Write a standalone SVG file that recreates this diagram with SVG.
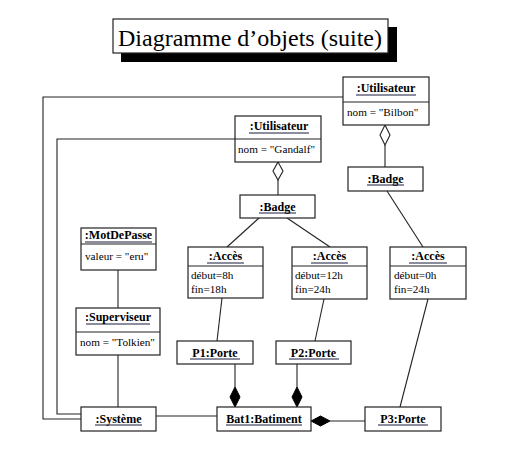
<svg xmlns="http://www.w3.org/2000/svg" width="509" height="458" viewBox="0 0 509 458">
<style>
.box{fill:#fff;stroke:#222;stroke-width:1.2}
.ln{fill:none;stroke:#222;stroke-width:1.1}
.hd{font-family:"Liberation Serif",serif;font-size:12px;font-weight:bold;fill:#000;text-anchor:middle}
.bd{font-family:"Liberation Serif",serif;font-size:11.2px;fill:#000}
.ul{stroke:#1a1a40;stroke-width:1}
.hol{fill:#fff;stroke:#222;stroke-width:1.1}
.fil{fill:#000;stroke:#000;stroke-width:1}
</style>
<rect width="509" height="458" fill="#fff"/>
<g id="title">
<rect x="121" y="27" width="276" height="35" fill="#000"/>
<rect x="113" y="19" width="275" height="34" fill="#fff" stroke="#222" stroke-width="1.2"/>
<text x="250" y="46" font-family="Liberation Serif, serif" font-size="24" text-anchor="middle" fill="#000">Diagramme d’objets (suite)</text>
</g>
<g id="connectors">
<polyline class="ln" points="343,97 43,97 43,419 81,419"/>
<polyline class="ln" points="235,139 57,139 57,414 81,414"/>
<line class="ln" x1="385" y1="145" x2="385" y2="167"/>
<polygon class="hol" points="385,125 390,135 385,145 380,135"/>
<line class="ln" x1="278" y1="180" x2="278" y2="195"/>
<polygon class="hol" points="278,162 283,171 278,180 273,171"/>
<line class="ln" x1="259" y1="218" x2="227" y2="247"/>
<line class="ln" x1="287" y1="218" x2="330" y2="247"/>
<line class="ln" x1="387" y1="191" x2="423" y2="247"/>
<line class="ln" x1="118" y1="270" x2="118" y2="308"/>
<line class="ln" x1="118" y1="355" x2="118" y2="407"/>
<line class="ln" x1="222" y1="298" x2="217" y2="341"/>
<line class="ln" x1="324" y1="299" x2="315" y2="341"/>
<line class="ln" x1="428" y1="299" x2="400" y2="407"/>
<line class="ln" x1="235" y1="364" x2="235" y2="387"/>
<polygon class="fil" points="235,387 240,397 235,407 230,397"/>
<line class="ln" x1="297" y1="364" x2="297" y2="387"/>
<polygon class="fil" points="297,387 302,397 297,407 292,397"/>
<line class="ln" x1="156" y1="416" x2="217" y2="416"/>
<line class="ln" x1="365" y1="421" x2="330" y2="421"/>
<polygon class="fil" points="311,421 320.5,416 330,421 320.5,426"/>
</g>
<g id="bilbon">
<rect class="box" x="343" y="77" width="86" height="48"/>
<line class="ln" x1="343" y1="102" x2="429" y2="102"/>
<text class="hd" x="386" y="92">:Utilisateur</text>
<line class="ul" x1="356" y1="95" x2="416" y2="95"/>
<text class="bd" x="347" y="116">nom = "Bilbon"</text>
</g>
<g id="gandalf">
<rect class="box" x="235" y="116" width="86" height="46"/>
<line class="ln" x1="235" y1="139" x2="321" y2="139"/>
<text class="hd" x="279" y="130">:Utilisateur</text>
<line class="ul" x1="249" y1="133" x2="309" y2="133"/>
<text class="bd" x="238" y="153">nom = "Gandalf"</text>
</g>
<g id="badgeG">
<rect class="box" x="240" y="195" width="75" height="23"/>
<text class="hd" x="277.5" y="211">:Badge</text>
<line class="ul" x1="259" y1="213" x2="296" y2="213"/>
</g>
<g id="badgeB">
<rect class="box" x="348" y="167" width="75" height="24"/>
<text class="hd" x="385.5" y="183">:Badge</text>
<line class="ul" x1="367" y1="185" x2="404" y2="185"/>
</g>
<g id="motdepasse">
<rect class="box" x="81" y="228" width="75" height="42"/>
<line class="ln" x1="81" y1="244" x2="156" y2="244"/>
<text class="hd" x="118.5" y="239">:MotDePasse</text>
<line class="ul" x1="85" y1="242" x2="152" y2="242"/>
<text class="bd" x="85" y="260">valeur = "eru"</text>
</g>
<g id="superviseur">
<rect class="box" x="76" y="308" width="84" height="47"/>
<line class="ln" x1="76" y1="332" x2="160" y2="332"/>
<text class="hd" x="118" y="321">:Superviseur</text>
<line class="ul" x1="86" y1="324" x2="150" y2="324"/>
<text class="bd" x="80" y="346">nom = "Tolkien"</text>
</g>
<g id="systeme">
<rect class="box" x="81" y="407" width="75" height="24"/>
<text class="hd" x="118.5" y="423">:Système</text>
<line class="ul" x1="95" y1="425" x2="142" y2="425"/>
</g>
<g id="acces1">
<rect class="box" x="188" y="247" width="75" height="51"/>
<line class="ln" x1="188" y1="266" x2="263" y2="266"/>
<text class="hd" x="225.5" y="260">:Accès</text>
<line class="ul" x1="207" y1="263" x2="244" y2="263"/>
<text class="bd" x="191" y="279">début=8h</text>
<text class="bd" x="191" y="293">fin=18h</text>
</g>
<g id="acces2">
<rect class="box" x="292" y="247" width="75" height="52"/>
<line class="ln" x1="292" y1="266" x2="367" y2="266"/>
<text class="hd" x="329.5" y="260">:Accès</text>
<line class="ul" x1="311" y1="263" x2="348" y2="263"/>
<text class="bd" x="295" y="279">début=12h</text>
<text class="bd" x="295" y="293">fin=24h</text>
</g>
<g id="acces3">
<rect class="box" x="390" y="247" width="76" height="52"/>
<line class="ln" x1="390" y1="266" x2="466" y2="266"/>
<text class="hd" x="428" y="260">:Accès</text>
<line class="ul" x1="409" y1="263" x2="447" y2="263"/>
<text class="bd" x="394" y="279">début=0h</text>
<text class="bd" x="394" y="293">fin=24h</text>
</g>
<g id="p1">
<rect class="box" x="177" y="341" width="76" height="23"/>
<text class="hd" x="215" y="357">P1:Porte</text>
<line class="ul" x1="190" y1="359" x2="240" y2="359"/>
</g>
<g id="p2">
<rect class="box" x="276" y="341" width="75" height="23"/>
<text class="hd" x="313.5" y="357">P2:Porte</text>
<line class="ul" x1="289" y1="359" x2="339" y2="359"/>
</g>
<g id="bat1">
<rect class="box" x="217" y="407" width="94" height="24"/>
<text class="hd" x="264" y="423">Bat1:Batiment</text>
<line class="ul" x1="226" y1="425" x2="302" y2="425"/>
</g>
<g id="p3">
<rect class="box" x="365" y="407" width="76" height="24"/>
<text class="hd" x="403" y="423">P3:Porte</text>
<line class="ul" x1="378" y1="425" x2="428" y2="425"/>
</g>
</svg>
